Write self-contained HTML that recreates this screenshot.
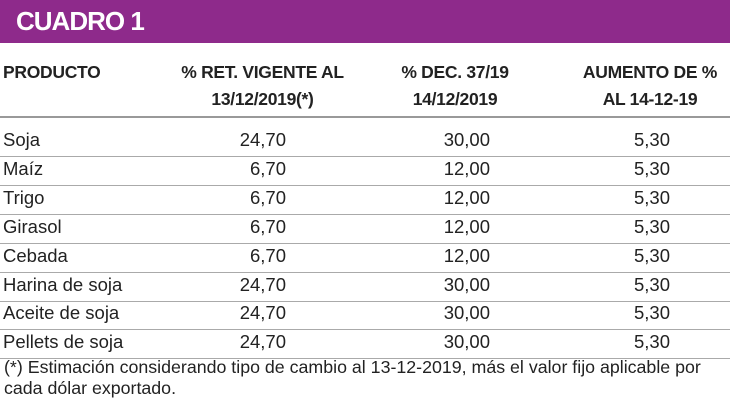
<!DOCTYPE html>
<html><head><meta charset="utf-8"><style>
body{margin:0;width:730px;height:410px;background:#fff;overflow:hidden;font-family:"Liberation Sans",sans-serif;color:#222;position:relative}
.bar{position:absolute;left:0;top:0;width:730px;height:43px;background:#8e2a8b}
.bar span{position:absolute;left:16px;top:6px;color:#fff;font-weight:bold;font-size:26px;letter-spacing:-1px}
.t{position:absolute;white-space:nowrap}
.h{font-weight:bold;font-size:17.5px;color:#222;line-height:27px}
.line{position:absolute;left:0;width:730px;height:2px;background:#999}
.r{font-size:18.5px;color:#222}
.foot{position:absolute;left:4px;top:357px;font-size:17.8px;line-height:21px;color:#222;width:726px}
</style></head><body>
<div class="bar"><span>CUADRO 1</span></div>
<div class="t h" style="left:3px;top:59px;letter-spacing:-0.3px">PRODUCTO</div>
<div class="t h" style="left:180px;width:165px;text-align:center;top:59px;letter-spacing:-0.3px">% RET. VIGENTE AL<br>13/12/2019(*)</div>
<div class="t h" style="left:395px;width:120px;text-align:center;top:59px;letter-spacing:-0.3px">% DEC. 37/19<br>14/12/2019</div>
<div class="t h" style="left:565px;width:170px;text-align:center;top:59px;letter-spacing:-0.3px">AUMENTO DE %<br>AL 14-12-19</div>
<div class="line" style="top:116px"></div>
<div id="rows"></div>
<script>
var d=[["Soja","24,70","30,00"],["Maíz","6,70","12,00"],["Trigo","6,70","12,00"],["Girasol","6,70","12,00"],["Cebada","6,70","12,00"],["Harina de soja","24,70","30,00"],["Aceite de soja","24,70","30,00"],["Pellets de soja","24,70","30,00"]];
var h="";
d.forEach(function(r,i){var y=129+i*28.9;
h+='<div class="t r" style="left:3px;top:'+y+'px">'+r[0]+'</div>';
h+='<div class="t r" style="left:200px;width:86px;text-align:right;top:'+y+'px">'+r[1]+'</div>';
h+='<div class="t r" style="left:400px;width:90px;text-align:right;top:'+y+'px">'+r[2]+'</div>';
h+='<div class="t r" style="left:600px;width:70px;text-align:right;top:'+y+'px">5,30</div>';
h+='<div class="line" style="height:1px;background:#aaa;top:'+(y+27)+'px"></div>';});
document.getElementById("rows").innerHTML=h;
</script>
<div class="foot">(*) Estimación considerando tipo de cambio al 13-12-2019, más el valor fijo aplicable por cada dólar exportado.</div>
</body></html>
